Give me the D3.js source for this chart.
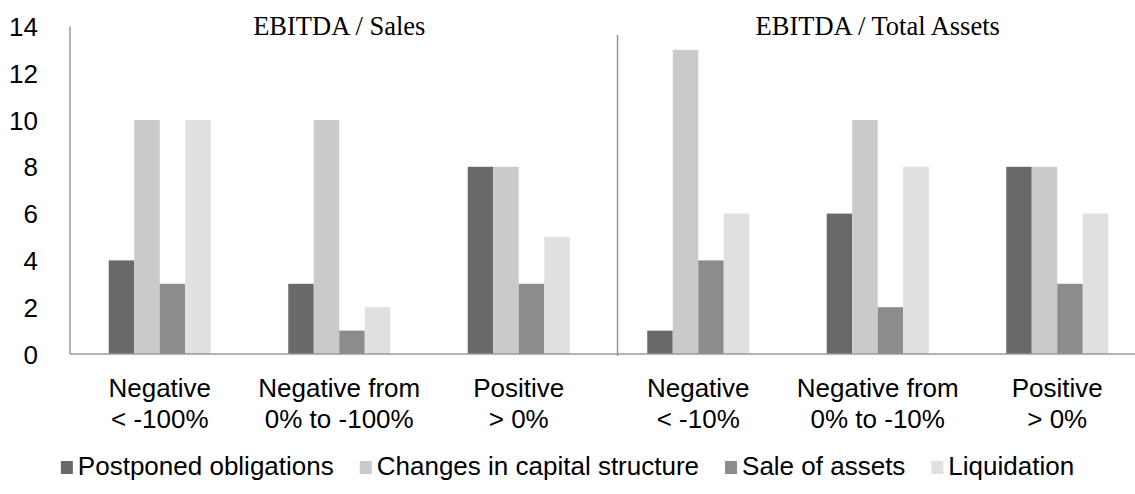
<!DOCTYPE html>
<html>
<head>
<meta charset="utf-8">
<script src="https://cdn.jsdelivr.net/npm/d3@7"></script>
<style>
  html, body { margin: 0; padding: 0; background: #fff; }
  svg { display: block; }
  .tick-label, .cat-label, .legend-label { font-family: "Liberation Sans", Arial, sans-serif; fill: #000; }
  .panel-title { font-family: "Liberation Serif", "Times New Roman", serif; fill: #000; }
</style>
</head>
<body>
<svg id="chart" width="1135" height="494"></svg>
<script>
// Category labels (two lines each)
const categories = ["c1", "c2", "c3", "c4", "c5", "c6"];
const categoryLine1 = ["Negative", "Negative from", "Positive", "Negative", "Negative from", "Positive"];
const categoryLine2 = ["< -100%", "0% to -100%", "> 0%", "< -10%", "0% to -10%", "> 0%"];

// Panel titles
const panelTitles = ["EBITDA / Sales", "EBITDA / Total Assets"];

// Series
const seriesNames = ["Postponed obligations", "Changes in capital structure", "Sale of assets", "Liquidation"];
const postponed   = [4, 3, 8, 1, 6, 8];
const capital     = [10, 10, 8, 13, 10, 8];
const saleAssets  = [3, 1, 3, 4, 2, 3];
const liquidation = [10, 2, 5, 6, 8, 6];

// Axis ticks
const yTicks = [0, 2, 4, 6, 8, 10, 12, 14];

const seriesValues = [postponed, capital, saleAssets, liquidation];
const colors = ["#696969", "#cacaca", "#8c8c8c", "#e0e0e0"];

const W = 1135;
const svg = d3.select("#chart");

const plotLeft = 70, plotRight = 1147, plotTop = 26.4, plotBottom = 354;
const sansSize = 26;

const x = d3.scaleBand().domain(categories).range([plotLeft, plotRight]).padding(0);
const bw = x.bandwidth();
const groupWidth = 102;
const xInner = d3.scaleBand().domain(seriesNames)
  .range([bw / 2 - groupWidth / 2, bw / 2 + groupWidth / 2]).padding(0);

const y = d3.scaleLinear().domain([0, 14]).range([plotBottom, plotTop]);

// Y axis tick labels
const yAxis = d3.axisLeft(y).tickValues(yTicks).tickSize(0).tickPadding(0).tickFormat(d3.format("d"));
const yg = svg.append("g").attr("transform", `translate(38,0)`).call(yAxis);
yg.select(".domain").remove();
yg.selectAll("text").attr("class", "tick-label").attr("font-size", sansSize).attr("dy", "0.35em");

// Bars
const rows = categories.map((c, i) => ({ cat: c, values: seriesValues.map((s, k) => ({ name: seriesNames[k], v: s[i], k })) }));
const groups = svg.append("g").selectAll("g").data(rows).join("g")
  .attr("transform", d => `translate(${x(d.cat)},0)`);
groups.selectAll("rect").data(d => d.values).join("rect")
  .attr("x", d => xInner(d.name))
  .attr("width", xInner.bandwidth())
  .attr("y", d => y(d.v))
  .attr("height", d => y(0) - y(d.v))
  .attr("fill", d => colors[d.k]);

// Left axis line
svg.append("line")
  .attr("x1", plotLeft).attr("x2", plotLeft)
  .attr("y1", y(14)).attr("y2", y(0))
  .attr("stroke", "#9a9a9a").attr("stroke-width", 1.5);

// Baseline
svg.append("line")
  .attr("x1", plotLeft).attr("x2", W)
  .attr("y1", y(0)).attr("y2", y(0))
  .attr("stroke", "#9a9a9a").attr("stroke-width", 1.5);

// Panel divider between the two ratio groups
const dividerX = x("c4") + 9;
svg.append("line")
  .attr("x1", dividerX).attr("x2", dividerX)
  .attr("y1", 35).attr("y2", y(0) + 2)
  .attr("stroke", "#9a9a9a").attr("stroke-width", 1.5);

// Panel titles centred over the middle category of each panel
svg.selectAll(".panel-title").data(panelTitles).join("text")
  .attr("class", "panel-title")
  .attr("x", (d, i) => x(categories[i * 3 + 1]) + bw / 2)
  .attr("y", 35)
  .attr("text-anchor", "middle")
  .attr("font-size", 26.5)
  .text(d => d);

// Category labels
const cl = svg.append("g").selectAll("text").data(categories).join("text")
  .attr("class", "cat-label")
  .attr("text-anchor", "middle")
  .attr("font-size", sansSize)
  .attr("transform", d => `translate(${x(d) + bw / 2},0)`);
cl.append("tspan").attr("x", 0).attr("y", 397).text((d, i) => categoryLine1[i]);
cl.append("tspan").attr("x", 0).attr("y", 428).text((d, i) => categoryLine2[i]);

// Legend, centred horizontally
const legendY = 475;
const sw = 12, sh = 13, swGap = 5, itemGap = 26;
const legend = svg.append("g");
let lx = 0;
seriesNames.forEach((name, k) => {
  const g = legend.append("g").attr("transform", `translate(${lx},0)`);
  g.append("rect").attr("x", 0).attr("y", legendY - sh - 1).attr("width", sw).attr("height", sh).attr("fill", colors[k]);
  const t = g.append("text").attr("class", "legend-label").attr("x", sw + swGap).attr("y", legendY)
    .attr("font-size", sansSize).text(name);
  const w = t.node().getComputedTextLength();
  lx += sw + swGap + w + (k < seriesNames.length - 1 ? itemGap : 0);
});
legend.attr("transform", `translate(${(W - lx) / 2},0)`);
</script>
</body>
</html>
